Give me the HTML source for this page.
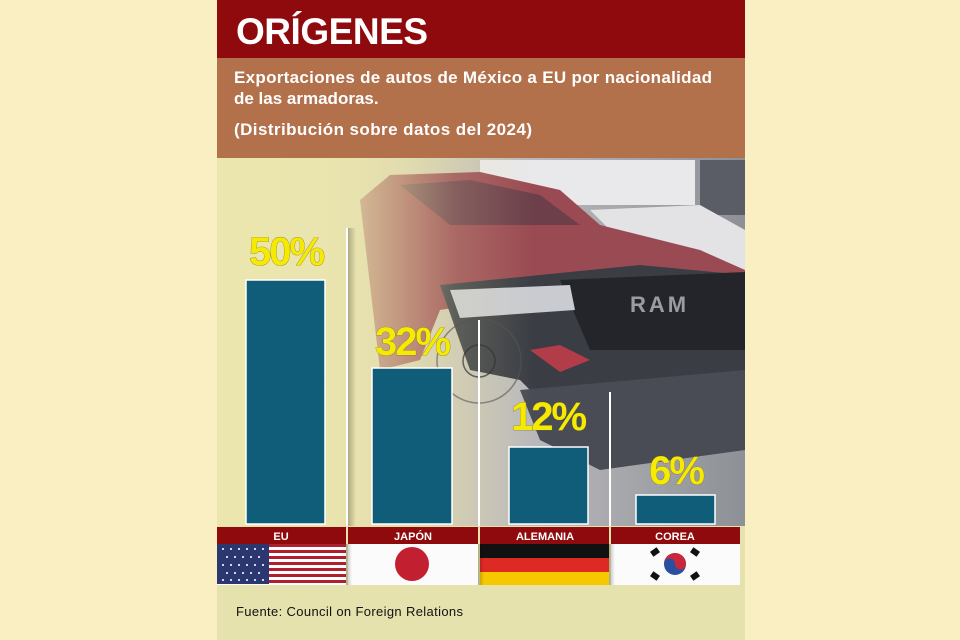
<!DOCTYPE html>
<html><head><meta charset="utf-8"><style>
html,body{margin:0;padding:0;background:#f9efc2;width:960px;height:640px;overflow:hidden}
svg{display:block}
text{font-family:"Liberation Sans",sans-serif}
</style></head><body>
<svg width="960" height="640" viewBox="0 0 960 640">
<defs>
<linearGradient id="bg" x1="0" x2="1" y1="0" y2="0">
<stop offset="0" stop-color="#ebe5ad"/><stop offset="0.35" stop-color="#d9d2b0"/><stop offset="0.6" stop-color="#b9b8bb"/><stop offset="1" stop-color="#8d9096"/></linearGradient>
<linearGradient id="fade" x1="0" x2="1" y1="0" y2="0">
<stop offset="0" stop-color="#ebe6ae" stop-opacity="1"/><stop offset="0.22" stop-color="#ebe6ae" stop-opacity="0.85"/><stop offset="0.45" stop-color="#ebe6ae" stop-opacity="0.2"/><stop offset="0.6" stop-color="#ebe6ae" stop-opacity="0"/></linearGradient>
<linearGradient id="shade" x1="0" x2="1"><stop offset="0" stop-color="#000" stop-opacity="0.25"/><stop offset="1" stop-color="#000" stop-opacity="0"/></linearGradient>
</defs>
<rect x="217" y="0" width="528" height="640" fill="#e5e2ad"/>
<rect x="217" y="0" width="528" height="58" fill="#8e0a0c"/>
<rect x="217" y="58" width="528" height="100" fill="#b2704b"/>
<text x="236" y="44" font-size="37" font-weight="bold" fill="#fff" textLength="192">ORÍGENES</text>
<text x="234" y="83" font-size="17" font-weight="bold" fill="#fff" textLength="478">Exportaciones de autos de México a EU por nacionalidad</text>
<text x="234" y="104" font-size="17" font-weight="bold" fill="#fff">de las armadoras.</text>
<text x="234" y="135" font-size="17" font-weight="bold" fill="#fff" textLength="298">(Distribución sobre datos del 2024)</text>
<rect x="217" y="158" width="528" height="368" fill="url(#bg)"/>
<rect x="480" y="160" width="215" height="45" fill="#e9e8ea"/>
<rect x="700" y="160" width="45" height="55" fill="#5a5c66"/>
<polygon points="590,210 700,205 745,230 745,280 640,260" fill="#e3e3e6"/>
<polygon points="360,200 390,175 480,172 560,190 600,225 700,250 745,270 745,290 640,285 500,300 440,310 420,360 380,370" fill="#9a4a52"/>
<polygon points="400,185 470,180 540,195 580,225 450,225" fill="#6c3f4a"/>
<polygon points="440,285 640,265 745,275 745,420 620,440 560,420 520,380 470,370" fill="#3a3d44"/>
<polygon points="560,280 745,272 745,350 590,350" fill="#23252b"/>
<text x="630" y="312" font-size="22" font-weight="bold" fill="#9a9ca2" letter-spacing="3">RAM</text>
<polygon points="450,290 570,285 575,310 460,318" fill="#c9cbd0"/>
<polygon points="530,350 560,345 590,360 560,372" fill="#b23d48"/>
<polygon points="520,390 745,370 745,450 600,470 540,440" fill="#4a4c55"/>
<rect x="217" y="158" width="528" height="368" fill="url(#fade)"/>
<circle cx="479" cy="361" r="42" fill="none" stroke="#555" stroke-width="1.5" opacity="0.6"/>
<circle cx="479" cy="361" r="16" fill="none" stroke="#333" stroke-width="1.5" opacity="0.7"/>
<rect x="346" y="228" width="2" height="298" fill="#fff"/>
<rect x="348" y="228" width="8" height="298" fill="url(#shade)"/>
<rect x="478" y="320" width="2" height="206" fill="#fff"/>
<rect x="609" y="392" width="2" height="134" fill="#fff"/>
<g fill="#0f5d78" stroke="#fff" stroke-width="1.5">
<rect x="246" y="280" width="79" height="244"/>
<rect x="372" y="368" width="80" height="156"/>
<rect x="509" y="447" width="79" height="77"/>
<rect x="636" y="495" width="79" height="29"/>
</g>
<g font-size="40" font-weight="bold" fill="#f6ea00" text-anchor="middle" letter-spacing="-2" style="paint-order:stroke" stroke="#6a6a3a" stroke-width="0.6">
<text x="286" y="265">50%</text>
<text x="412" y="355">32%</text>
<text x="548" y="430">12%</text>
<text x="676" y="484">6%</text>
</g>
<g fill="#8e0a0c">
<rect x="217" y="527" width="129" height="17"/><rect x="348" y="527" width="130" height="17"/>
<rect x="480" y="527" width="129" height="17"/><rect x="611" y="527" width="129" height="17"/>
</g>
<g font-size="11" font-weight="bold" fill="#fff" text-anchor="middle">
<text x="281" y="540">EU</text><text x="413" y="540">JAPÓN</text><text x="545" y="540">ALEMANIA</text><text x="675" y="540">COREA</text>
</g>
<g>
<rect x="217" y="544" width="129" height="41" fill="#fff"/>
<g fill="#b01f2e">
<rect x="217" y="544" width="129" height="3"/><rect x="217" y="550" width="129" height="3"/><rect x="217" y="556" width="129" height="3"/><rect x="217" y="562" width="129" height="3"/><rect x="217" y="568" width="129" height="3"/><rect x="217" y="574" width="129" height="3"/><rect x="217" y="580" width="129" height="3"/>
</g>
<rect x="217" y="544" width="52" height="40" fill="#2b3770"/>
<g fill="#fff" opacity="0.8">
<rect x="222" y="548" width="2" height="2"/><rect x="230" y="548" width="2" height="2"/><rect x="238" y="548" width="2" height="2"/><rect x="246" y="548" width="2" height="2"/><rect x="254" y="548" width="2" height="2"/><rect x="262" y="548" width="2" height="2"/>
<rect x="226" y="556" width="2" height="2"/><rect x="234" y="556" width="2" height="2"/><rect x="242" y="556" width="2" height="2"/><rect x="250" y="556" width="2" height="2"/><rect x="258" y="556" width="2" height="2"/>
<rect x="222" y="564" width="2" height="2"/><rect x="230" y="564" width="2" height="2"/><rect x="238" y="564" width="2" height="2"/><rect x="246" y="564" width="2" height="2"/><rect x="254" y="564" width="2" height="2"/><rect x="262" y="564" width="2" height="2"/>
<rect x="226" y="572" width="2" height="2"/><rect x="234" y="572" width="2" height="2"/><rect x="242" y="572" width="2" height="2"/><rect x="250" y="572" width="2" height="2"/><rect x="258" y="572" width="2" height="2"/>
<rect x="222" y="579" width="2" height="2"/><rect x="230" y="579" width="2" height="2"/><rect x="238" y="579" width="2" height="2"/><rect x="246" y="579" width="2" height="2"/><rect x="254" y="579" width="2" height="2"/><rect x="262" y="579" width="2" height="2"/>
</g>
<rect x="348" y="544" width="130" height="41" fill="#fbfbfb"/>
<circle cx="412" cy="564" r="17" fill="#c21f30"/>
<rect x="480" y="544" width="129" height="14" fill="#111"/>
<rect x="480" y="558" width="129" height="14" fill="#dd2a25"/>
<rect x="480" y="572" width="129" height="13" fill="#f5c800"/>
<rect x="611" y="544" width="129" height="41" fill="#fbfbfb"/>
<circle cx="675" cy="564" r="11" fill="#2a4fa0"/>
<path d="M664,564 a11,11 0 0 1 22,0 a5.5,5.5 0 0 1 -11,0 a5.5,5.5 0 0 0 -11,0z" fill="#c8283a"/>
<g fill="#111"><rect x="651" y="549" width="8" height="6" transform="rotate(-35 655 552)"/><rect x="691" y="549" width="8" height="6" transform="rotate(35 695 552)"/><rect x="651" y="573" width="8" height="6" transform="rotate(35 655 576)"/><rect x="691" y="573" width="8" height="6" transform="rotate(-35 695 576)"/></g>
<rect x="346" y="544" width="6" height="41" fill="url(#shade)"/>
<rect x="478" y="544" width="6" height="41" fill="url(#shade)"/>
<rect x="609" y="544" width="6" height="41" fill="url(#shade)"/>
</g>
<text x="236" y="616" font-size="13" fill="#111" textLength="227">Fuente: Council on Foreign Relations</text>
</svg>
</body></html>
